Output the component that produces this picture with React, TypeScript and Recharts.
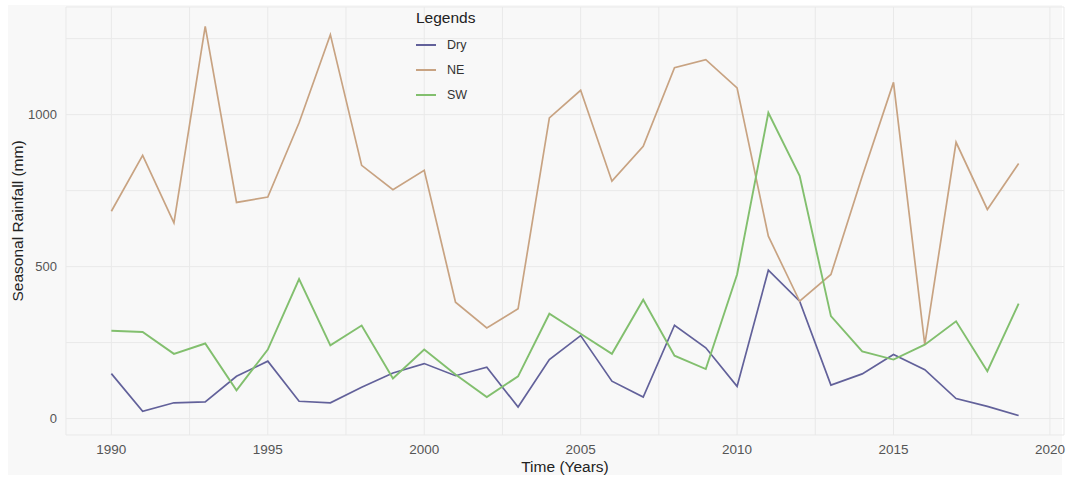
import { CartesianGrid, Legend, Line, LineChart, XAxis, YAxis } from "recharts";

const years = [
  1990, 1991, 1992, 1993, 1994, 1995, 1996, 1997, 1998, 1999, 2000, 2001, 2002, 2003, 2004,
  2005, 2006, 2007, 2008, 2009, 2010, 2011, 2012, 2013, 2014, 2015, 2016, 2017, 2018, 2019,
];
const dry = [
  148, 24, 52, 55, 139, 189, 57, 52, 103, 150, 181, 141, 169, 38, 194,
  273, 123, 71, 307, 233, 106, 488, 386, 110, 147, 211, 161, 66, 40, 10,
];
const ne = [
  682, 866, 644, 1290, 711, 729, 973, 1263, 833, 753, 817, 383, 298, 361, 989,
  1080, 781, 896, 1154, 1181, 1088, 600, 386, 474, 797, 1106, 243, 909, 688, 839,
];
const sw = [
  289, 285, 213, 247, 93, 227, 459, 241, 306, 132, 227, 145, 71, 139, 345,
  279, 213, 391, 207, 163, 474, 1006, 799, 337, 221, 194, 243, 320, 156, 378,
];
const xTicks = [1990, 1992.5, 1995, 1997.5, 2000, 2002.5, 2005, 2007.5, 2010, 2012.5, 2015, 2017.5, 2020];
const yTicks = [0, 250, 500, 750, 1000, 1250];

const data = years.map((y, i) => ({ year: y, Dry: dry[i], NE: ne[i], SW: sw[i] }));

const FONT = "'Liberation Sans', Arial, sans-serif";

function LegendBox({ payload }: any) {
  return (
    <div style={{ fontFamily: FONT, color: "#222" }}>
      <div style={{ fontSize: 15.5, height: 27, lineHeight: "26px" }}>Legends</div>
      {(payload || []).map((p: any) => (
        <div key={p.value} style={{ display: "flex", alignItems: "center", height: 25 }}>
          <span style={{ display: "inline-block", width: 20, height: 2, background: p.color, marginRight: 11 }} />
          <span style={{ fontSize: 12.5, color: "#333" }}>{p.value}</span>
        </div>
      ))}
    </div>
  );
}

export default function App() {
  return (
    <div style={{ position: "relative", width: 1067, height: 479, background: "#fff", overflow: "hidden" }}>
      <style>{`body{margin:0}`}</style>
      <div style={{ position: "absolute", left: 8, top: 5, right: 5, bottom: 4, background: "#f8f8f8" }} />
      <div style={{ position: "absolute", left: 0, top: 0 }}>
        <LineChart width={1067} height={479} data={data} margin={{ top: 7, right: 3, bottom: 0, left: 0 }}>
          <CartesianGrid stroke="#e9e9e9" strokeWidth={1} />
          <XAxis
            dataKey="year"
            type="number"
            domain={[1988.55, 2020.45]}
            allowDataOverflow
            ticks={xTicks}
            interval={0}
            height={44}
            axisLine={false}
            tickLine={false}
            tickMargin={3}
            tick={{ fontSize: 13.5, fill: "#555", fontFamily: FONT }}
            tickFormatter={(v: number) => (v % 5 === 0 ? String(v) : "")}
            label={{
              content: ({ viewBox }: any) => (
                <text
                  x={viewBox.x + viewBox.width / 2}
                  y={472}
                  textAnchor="middle"
                  fontSize={15.5}
                  fill="#222"
                  fontFamily={FONT}
                >
                  Time (Years)
                </text>
              ),
            }}
          />
          <YAxis
            type="number"
            domain={[-54, 1354]}
            allowDataOverflow
            ticks={yTicks}
            interval={0}
            width={66}
            axisLine={false}
            tickLine={false}
            tickMargin={3}
            tick={{ fontSize: 13, fill: "#555", fontFamily: FONT }}
            tickFormatter={(v: number) => (v % 500 === 0 ? String(v) : "")}
            label={{
              content: ({ viewBox }: any) => {
                const cy = viewBox.y + viewBox.height / 2;
                return (
                  <text
                    x={23}
                    y={cy}
                    transform={`rotate(-90, 23, ${cy})`}
                    textAnchor="middle"
                    fontSize={15.5}
                    fill="#222"
                    fontFamily={FONT}
                  >
                    Seasonal Rainfall (mm)
                  </text>
                );
              },
            }}
          />
          <Legend
            layout="vertical"
            align="center"
            verticalAlign="middle"
            wrapperStyle={{ left: 416, top: 5, width: 120 }}
            content={<LegendBox />}
          />
          <Line type="linear" dataKey="Dry" stroke="#62619a" strokeWidth={1.7} dot={false} isAnimationActive={false} />
          <Line type="linear" dataKey="NE" stroke="#c8a382" strokeWidth={1.7} dot={false} isAnimationActive={false} />
          <Line type="linear" dataKey="SW" stroke="#82bf6e" strokeWidth={1.9} dot={false} isAnimationActive={false} />
        </LineChart>
      </div>
    </div>
  );
}
